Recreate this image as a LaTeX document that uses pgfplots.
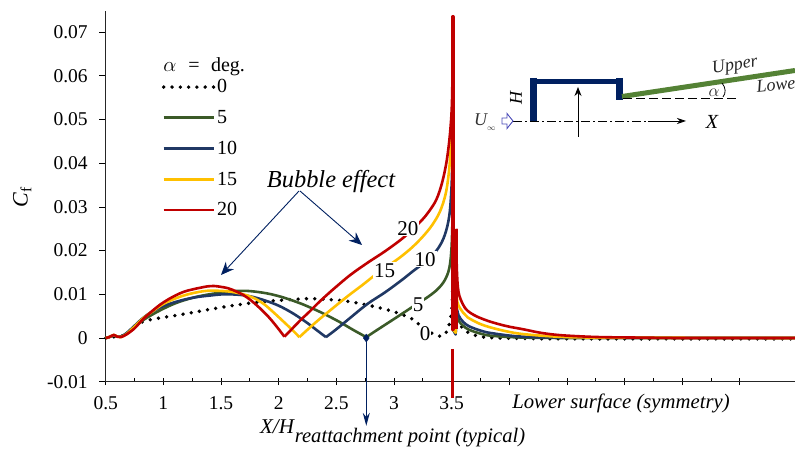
\documentclass[border=0pt]{standalone}
\usepackage{pgfplots}
\usepackage{fontspec}
\setmainfont{Liberation Serif}
\pgfplotsset{compat=1.18}
\usetikzlibrary{arrows.meta}
\definecolor{cNavy}{HTML}{002060}
\definecolor{cG}{HTML}{3B5A28}
\definecolor{cB}{HTML}{203864}
\definecolor{cY}{HTML}{FFC000}
\definecolor{cR}{HTML}{C00000}
\definecolor{cPlate}{HTML}{548235}
\newcommand{\fs}[1]{\fontsize{#1}{#1}\selectfont}
\begin{document}
\begin{tikzpicture}
\path[use as bounding box] (0,0) rectangle (795pt,449pt);
\begin{axis}[
  at={(105.7pt,67.3pt)}, anchor=south west,
  scale only axis, width=689.3pt, height=371pt,
  xmin=0.5, xmax=6.478, ymin=-0.01, ymax=0.0749,
  clip=false,
  axis x line=bottom, axis y line=left,
  axis line style={-, line width=0.9pt, black!85},
  xtick={0.5,1,1.5,2,2.5,3,3.5,4,4.5,5,5.5,6},
  xticklabels={0.5,1,1.5,2,2.5,3,3.5,{},{},{},{},{}},
  minor x tick num=1,
  ytick={-0.01,0,0.01,0.02,0.03,0.04,0.05,0.06,0.07},
  yticklabels={-0.01,0,0.01,0.02,0.03,0.04,0.05,0.06,0.07},
  tick align=center,
  major tick length=7pt, minor tick length=4pt,
  x tick style={line width=0.8pt, black},
  minor x tick style={line width=0.8pt, black, yshift=2pt},
  y tick style={line width=0.8pt, black, xshift=-3pt},
  tick label style={font=\fs{19.5}},
  x tick label style={yshift=-8pt},
  y tick label style={xshift=-11pt},
  xlabel={\itshape X/H}, ylabel={{\itshape C}\textsubscript{f}},
  x label style={at={(axis description cs:0.2486,-0.122)},anchor=center,font=\fs{21}},
  y label style={at={(axis description cs:-0.121,0.498)},anchor=center,font=\fs{22}},
  legend cell align=left,
  legend image code/.code={\draw[#1] (0pt,0pt) -- (50pt,0pt);},
  legend style={draw=none, fill=none, at={(axis cs:0.985,0.0595)}, anchor=north west,
    font=\fs{20}, row sep=13pt, inner sep=0pt, nodes={inner sep=1.5pt}},
  every axis plot/.append style={line join=round},
  cv/.style={line width=2.6pt, smooth, tension=0.55},
  cs/.style={line width=2.6pt},
]
% alpha = 0
\addplot[black, line width=3.8pt, line cap=round, dash pattern=on 0pt off 8.3pt, smooth, tension=0.55] coordinates {
(0.5,0)(0.55,0.0003)(0.6,0.0002)(0.66,0.0006)(0.73,0.0021)(0.82,0.0037)(0.95,0.0045)(1.07,0.0050)(1.18,0.0055)
(1.33,0.0062)(1.48,0.0069)(1.62,0.0075)(1.76,0.0080)(1.9,0.0084)(2.05,0.0087)(2.16,0.0089)(2.28,0.0090)
(2.42,0.0088)(2.57,0.0085)(2.72,0.0078)(2.86,0.0070)(3.0,0.0060)(3.14,0.0046)(3.2,0.0035)(3.28,0.0018)
(3.38,0.0005)(3.43,0.0006)(3.47,0.0023)(3.5,0.0062)(3.51,0.0118)};
\addlegendentry{0}
\addplot[black, line width=3.8pt, line cap=round, dash pattern=on 0pt off 8.3pt, forget plot, smooth, tension=0.55] coordinates {
(3.53,0.0118)(3.54,0.0060)(3.59,0.0024)(3.65,0.0012)(3.78,0.0002)(4.1,-0.0001)(4.6,-0.0002)(6.478,-0.0002)};
% alpha = 5
\addplot[cG, cv] coordinates {
(0.5,0)(0.53,0.0002)(0.57,0.0006)(0.6,0.0003)(0.63,0.0003)(0.68,0.0010)(0.75,0.0025)(0.82,0.0040)(0.9,0.0053)
(1.0,0.0067)(1.1,0.0079)(1.2,0.0088)(1.3,0.0095)(1.4,0.0100)(1.5,0.0104)(1.6,0.0107)(1.7,0.0108)(1.8,0.0106)
(1.92,0.0101)(2.05,0.0092)(2.2,0.0078)(2.34,0.0062)(2.44,0.0049)(2.54,0.0035)(2.65,0.0018)(2.76,0.0002)};
\addlegendentry{5}
\addplot[cG, cv, forget plot] coordinates {
(2.76,0.0002)(2.84,0.0016)(2.91,0.0028)(3.05,0.0052)(3.2,0.0078)(3.3,0.0095)(3.38,0.0112)(3.44,0.0132)(3.48,0.0160)(3.5,0.0210)(3.51,0.0300)};
\addplot[cG, cs, forget plot] coordinates {(3.51,0.0300)(3.51,0.002)(3.535,0.001)(3.54,0.0060)};
\addplot[cG, cv, forget plot] coordinates {
(3.54,0.0060)(3.56,0.0040)(3.6,0.0028)(3.65,0.0019)(3.75,0.0010)(3.85,0.0005)(4.12,0.0001)(4.6,0)(6.478,0)};
% alpha = 10
\addplot[cB, cv] coordinates {
(0.5,0)(0.53,0.0002)(0.57,0.0006)(0.6,0.0003)(0.63,0.0003)(0.68,0.0011)(0.75,0.0028)(0.82,0.0045)(0.9,0.0060)
(1.0,0.0073)(1.1,0.0082)(1.2,0.0089)(1.3,0.0094)(1.4,0.0097)(1.52,0.0100)(1.65,0.0099)(1.76,0.0095)(1.88,0.0086)
(2.0,0.0074)(2.12,0.0057)(2.24,0.0036)(2.33,0.0018)(2.41,0.0002)};
\addlegendentry{10}
\addplot[cB, cv, forget plot] coordinates {
(2.41,0.0002)(2.5,0.0020)(2.62,0.0046)(2.77,0.0078)(2.92,0.0104)
(3.06,0.0131)(3.17,0.0154)(3.29,0.0178)(3.38,0.0204)(3.44,0.0235)(3.48,0.0280)(3.5,0.0350)(3.51,0.0450)};
\addplot[cB, cs, forget plot] coordinates {(3.51,0.0450)(3.51,0.002)(3.535,0.0008)(3.54,0.0075)};
\addplot[cB, cv, forget plot] coordinates {
(3.54,0.0075)(3.56,0.0052)(3.6,0.0037)(3.65,0.0027)(3.75,0.0017)(3.85,0.0011)(4.12,0.0003)(4.6,0.0001)(6.478,0)};
% alpha = 15
\addplot[cY, cv] coordinates {
(0.5,0)(0.53,0.0002)(0.57,0.0007)(0.6,0.0003)(0.63,0.0002)(0.68,0.0009)(0.75,0.0026)(0.82,0.0044)(0.9,0.0060)
(1.0,0.0078)(1.1,0.0090)(1.2,0.0099)(1.3,0.0105)(1.38,0.0108)(1.48,0.0108)(1.58,0.0106)(1.68,0.0101)(1.78,0.0092)
(1.87,0.0078)(1.95,0.0060)(2.04,0.0038)(2.12,0.0018)(2.18,0.0002)};
\addlegendentry{15}
\addplot[cY, cv, forget plot] coordinates {
(2.18,0.0002)(2.25,0.0019)(2.34,0.0040)(2.45,0.0064)(2.6,0.0096)
(2.73,0.0122)(2.85,0.0147)(2.96,0.0167)(3.06,0.0186)(3.16,0.0208)(3.25,0.0232)(3.33,0.0258)(3.4,0.0290)(3.45,0.0332)(3.48,0.0389)(3.5,0.0470)(3.51,0.0560)};
\addplot[cY, cs, forget plot] coordinates {(3.51,0.0560)(3.51,0.002)(3.535,0.0012)(3.54,0.0130)};
\addplot[cY, cv, forget plot] coordinates {
(3.54,0.0130)(3.55,0.0082)(3.6,0.0058)(3.64,0.0047)(3.74,0.0033)(3.84,0.0024)(3.98,0.0015)(4.12,0.0009)(4.42,0.0003)(4.8,0.0001)(6.478,0)};
% alpha = 20
\addplot[cR, cv] coordinates {
(0.5,0)(0.53,0.0002)(0.57,0.0007)(0.6,0.0003)(0.63,0.0002)(0.68,0.0008)(0.75,0.0022)(0.82,0.0042)(0.9,0.0061)
(0.97,0.0076)(1.04,0.0088)(1.11,0.0098)(1.18,0.0106)(1.25,0.0111)(1.32,0.0115)(1.38,0.0118)(1.44,0.0119)(1.5,0.0117)
(1.56,0.0114)(1.62,0.0108)(1.69,0.0099)(1.76,0.0086)(1.83,0.0070)(1.91,0.0049)(1.98,0.0027)(2.05,0.0003)};
\addlegendentry{20}
\addplot[cR, cv, forget plot] coordinates {
(2.05,0.0003)(2.12,0.0022)(2.19,0.0041)(2.27,0.0061)(2.35,0.0082)(2.42,0.0099)(2.48,0.0113)(2.62,0.0144)(2.77,0.0172)(2.92,0.0198)(3.06,0.0225)
(3.16,0.0248)(3.25,0.0272)(3.31,0.0292)(3.37,0.0318)(3.42,0.0358)(3.46,0.0410)(3.49,0.0480)(3.505,0.0560)(3.51,0.0735)};
\addplot[cR, cv, forget plot] coordinates {
(3.54,0.0250)(3.545,0.0160)(3.56,0.0105)(3.6,0.0076)(3.64,0.0062)(3.72,0.0049)(3.84,0.0037)
(3.98,0.0027)(4.12,0.0020)(4.27,0.0012)(4.42,0.0007)(4.6,0.0004)(4.8,0.0002)(5.1,0.0001)(5.5,0)(6.478,0)};
% thick spikes and the mark below the zero line
\addplot[cR, line width=3.8pt, forget plot, line cap=round] coordinates {(3.51,0.0735)(3.51,0.0020)};
\addplot[cR, line width=4pt, forget plot] coordinates {(3.54,0.0250)(3.54,0.0020)};
\addplot[cR, line width=2.8pt, forget plot] coordinates {(3.51,-0.0025)(3.51,-0.0138)};
% reattachment marker
\addplot[cNavy, line width=1pt, forget plot, -{Stealth[length=13pt,width=7pt]}] coordinates {(2.76,0)(2.76,-0.0201)};
\addplot[cNavy, only marks, mark=diamond*, mark size=4pt, forget plot] coordinates {(2.76,0)};
% curve labels
\node[fill=white, inner sep=1pt, font=\fs{21}] at (axis cs:3.12,0.0251) {20};
\node[fill=white, inner sep=1pt, font=\fs{21}] at (axis cs:2.92,0.0155) {15};
\node[fill=white, inner sep=1pt, font=\fs{21}] at (axis cs:3.27,0.0180) {10};
\node[fill=white, inner sep=1pt, font=\fs{21}] at (axis cs:3.21,0.0076) {5};
\node[fill=white, inner sep=0.5pt, font=\fs{21}] at (axis cs:3.27,0.0011) {0};
\end{axis}
% annotations in image pixels
\begin{scope}[shift={(0pt,449pt)},x=1pt,y=-1pt]
\node[font=\fs{20}] at (170,67) {$\alpha$};
\node[font=\fs{20}] at (194,67) {=};
\node[font=\fs{20}] at (228,67) {deg.};
\node[font=\itshape\fs{24.4},anchor=center] at (331,182) {Bubble effect};
\draw[cNavy,line width=0.9pt,-{Stealth[length=13pt,width=11pt]}] (299,191) -- (221,275);
\draw[cNavy,line width=0.9pt,-{Stealth[length=13pt,width=11pt]}] (300,191) -- (362,245);
\node[font=\itshape\fs{20.7},anchor=center] at (621,403) {Lower surface (symmetry)};
\node[font=\itshape\fs{20.6},anchor=center] at (410,438) {reattachment point (typical)};
% sketch
\draw[cNavy,line width=7pt] (533.5,78) -- (533.5,121);
\draw[cNavy,line width=5pt] (530,81.5) -- (622,81.5);
\draw[cNavy,line width=7pt] (619.5,78) -- (619.5,100);
\draw[cPlate,line width=5pt] (622,96.5) -- (795,70.5);
\draw[black,line width=0.8pt,dash pattern=on 9pt off 4pt] (623,98) -- (736,98);
\draw[black,line width=0.8pt] (722,83) .. controls (726,88) and (726,93) .. (723,97);
\draw[black,line width=0.8pt,dash pattern=on 9pt off 3pt on 2pt off 3pt] (513,121) -- (650,121);
\draw[black,line width=0.8pt,-{Stealth[length=9pt,width=6pt]}] (648,121) -- (686,121);
\draw[black,line width=0.9pt,-{Stealth[length=9pt,width=7pt]}] (578,137) -- (578,87);
\draw[blue!60!black!70,line width=0.9pt,fill=white] (502,118) -- (507,118) -- (507,113.5) -- (513,121) -- (507,128.5) -- (507,124) -- (502,124) -- cycle;
\node[font=\itshape\fs{20}] at (712,122) {X};
\node[font=\itshape\fs{18},rotate=90] at (516,98) {H};
\node[font=\fs{18},text=black!80] at (485,122) {\itshape U\raisebox{-3pt}{\fs{12}$_{\infty}$}};
\node[font=\itshape\fs{18},rotate=9,text=black!85] at (735,66) {Upper};
\node[font=\itshape\fs{18},rotate=6,text=black!85,anchor=west] at (753,87) {Lowe};
\node[font=\fs{19},text=black!85] at (714,93) {$\alpha$};
\end{scope}
\end{tikzpicture}
\end{document}
